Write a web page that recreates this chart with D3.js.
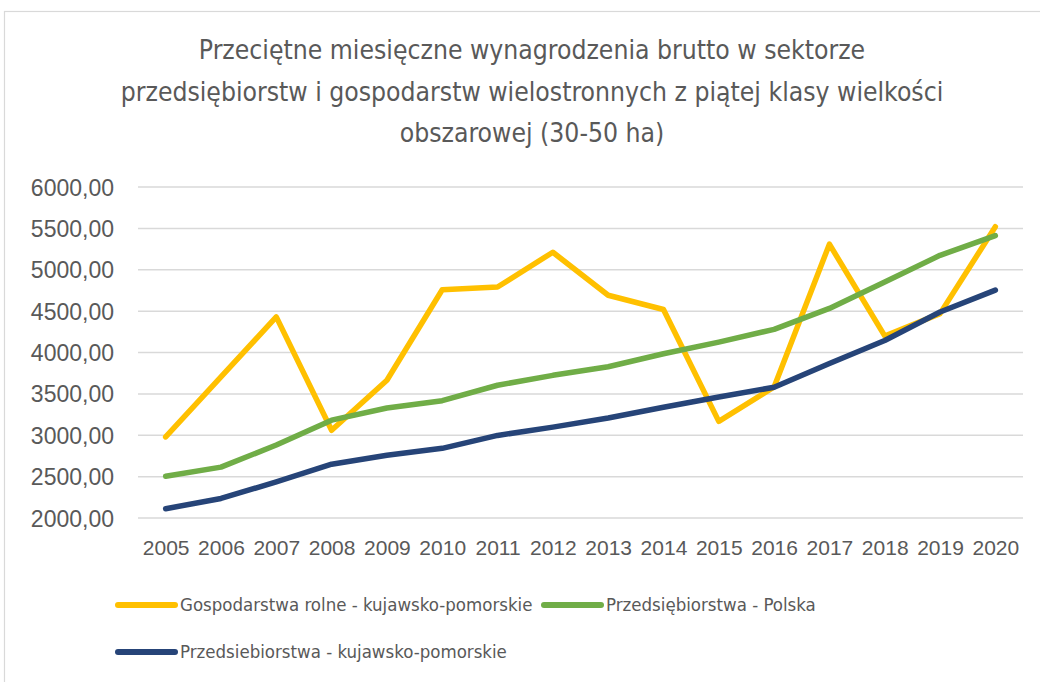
<!DOCTYPE html>
<html><head><meta charset="utf-8">
<script src="https://cdn.jsdelivr.net/npm/d3@7"></script>
<style>body{margin:0;background:#fff;} svg{display:block;}</style>
</head><body>
<svg id="chart" width="1040" height="682"></svg>
<script>
const years = ["2005","2006","2007","2008","2009","2010","2011","2012","2013","2014","2015","2016","2017","2018","2019","2020"];
const gospodarstwaKP = [2980,3705,4430,3060,3665,4758,4792,5212,4692,4520,3168,3584,5309,4200,4470,5520];
const przedsPolska   = [2505,2615,2882,3182,3330,3418,3604,3724,3828,3985,4126,4280,4533,4852,5174,5412];
const przedsKP       = [2112,2236,2436,2650,2758,2842,2998,3098,3208,3338,3462,3580,3868,4145,4490,4754];
const yTicks = [2000,2500,3000,3500,4000,4500,5000,5500,6000];
const seriesNames = ["Gospodarstwa rolne - kujawsko-pomorskie","Przedsiębiorstwa - Polska","Przedsiebiorstwa - kujawsko-pomorskie"];
const seriesColors = ["#FFC000","#70AD47","#264478"];
const titleLines = ["Przeciętne miesięczne wynagrodzenia brutto w sektorze","przedsiębiorstw i gospodarstw wielostronnych z piątej klasy wielkości","obszarowej (30-50 ha)"];

const series = [gospodarstwaKP, przedsPolska, przedsKP];
const svg = d3.select("#chart");
const txt = "#595959";
const fontMain = "'Liberation Sans Narrow','DejaVu Sans Condensed','Liberation Sans',sans-serif";
const fontAxis = "'Liberation Sans','DejaVu Sans',sans-serif";

// frame
svg.append("rect").attr("x",4.5).attr("y",11.5).attr("width",1060).attr("height",700)
  .attr("fill","none").attr("stroke","#d9d9d9").attr("stroke-width",1.2);

// title
const titleBase = [59, 101, 142];
titleLines.forEach((t,i)=>{
  svg.append("text").attr("x",532).attr("y",titleBase[i])
    .attr("text-anchor","middle").attr("fill",txt)
    .style("font-family",fontMain).style("font-size","26.3px").text(t);
});

const x = d3.scalePoint().domain(years).range([138,1023]).padding(0.5);
const y = d3.scaleLinear().domain([2000,6000]).range([518,187]);
const plc = d3.formatLocale({decimal:",",thousands:"",grouping:[3],currency:["",""]});
const fmt = plc.format(".2f");

// gridlines
svg.append("g").selectAll("line").data(yTicks).join("line")
  .attr("x1",138).attr("x2",1023).attr("y1",d=>y(d)).attr("y2",d=>y(d))
  .attr("stroke","#d9d9d9").attr("stroke-width",1.5);

// y axis
const yAxis = svg.append("g").attr("transform","translate(124,0)")
  .call(d3.axisLeft(y).tickValues(yTicks).tickFormat(fmt).tickSize(0).tickPadding(10));
yAxis.select(".domain").remove();
yAxis.selectAll("text").attr("fill",txt).style("font-family",fontAxis).style("font-size","23px").attr("dy","0.35em");

// x axis
const xAxis = svg.append("g").attr("transform","translate(0,518)")
  .call(d3.axisBottom(x).tickSize(0).tickPadding(22));
xAxis.select(".domain").remove();
xAxis.selectAll("text").attr("fill",txt).style("font-family",fontAxis).style("font-size","21px");

// lines
const line = d3.line().x((d,i)=>x(years[i])).y(d=>y(d));
series.forEach((s,i)=>{
  svg.append("path").datum(s).attr("d",line).attr("fill","none")
    .attr("stroke",seriesColors[i]).attr("stroke-width",5.5)
    .attr("stroke-linejoin","round").attr("stroke-linecap","round");
});

// legend
const legendPos = [[115,605],[541,605],[115,652]];
seriesNames.forEach((n,i)=>{
  const [lx,ly] = legendPos[i];
  svg.append("line").attr("x1",lx+3).attr("x2",lx+60).attr("y1",ly).attr("y2",ly)
    .attr("stroke",seriesColors[i]).attr("stroke-width",6).attr("stroke-linecap","round");
  svg.append("text").attr("x",lx+65).attr("y",ly).attr("dy","0.35em").attr("fill",txt)
    .style("font-family",fontMain).style("font-size","18.5px").text(n);
});
</script>
</body></html>
